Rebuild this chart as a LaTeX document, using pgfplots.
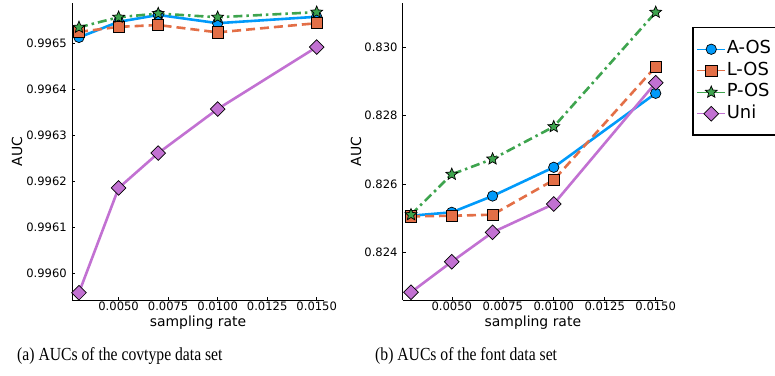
\documentclass[border=0pt]{standalone}
\usepackage{graphicx}
\usepackage{pgfplots}
\pgfplotsset{compat=1.18}
\usepackage{fontspec}
\setmainfont{DejaVu Sans}
\newfontfamily\capfont{Liberation Serif}
\definecolor{cA}{RGB}{0,154,250}
\definecolor{cL}{RGB}{227,111,71}
\definecolor{cP}{RGB}{62,164,78}
\definecolor{cU}{RGB}{194,113,210}
\pgfdeclareplotmark{fstar}{%
  \pgfpathmoveto{\pgfqpointpolar{90}{\pgfplotmarksize}}%
  \pgfpathlineto{\pgfqpointpolar{126}{0.45\pgfplotmarksize}}%
  \pgfpathlineto{\pgfqpointpolar{162}{\pgfplotmarksize}}%
  \pgfpathlineto{\pgfqpointpolar{198}{0.45\pgfplotmarksize}}%
  \pgfpathlineto{\pgfqpointpolar{234}{\pgfplotmarksize}}%
  \pgfpathlineto{\pgfqpointpolar{270}{0.45\pgfplotmarksize}}%
  \pgfpathlineto{\pgfqpointpolar{306}{\pgfplotmarksize}}%
  \pgfpathlineto{\pgfqpointpolar{342}{0.45\pgfplotmarksize}}%
  \pgfpathlineto{\pgfqpointpolar{18}{\pgfplotmarksize}}%
  \pgfpathlineto{\pgfqpointpolar{54}{0.45\pgfplotmarksize}}%
  \pgfpathclose
  \pgfusepathqfillstroke
}
\pgfplotsset{
  myaxis/.style={
    scale only axis, anchor=south west,
    axis lines=left, axis line style={-, line width=0.7bp, black},
    tick align=inside, major tick length=3bp, tick style={black, line width=0.5bp},
    scaled ticks=false, clip=false,
    /pgf/number format/assume math mode=true,
    tick label style={font=\fontsize{11.6}{13}\selectfont},
    label style={font=\fontsize{14}{16}\selectfont},
    xtick={0.005,0.0075,0.01,0.0125,0.015},
    xticklabel style={/pgf/number format/fixed, /pgf/number format/fixed zerofill, /pgf/number format/precision=4, inner sep=0pt, anchor=north, yshift=-2bp},
    yticklabel style={inner sep=0pt, anchor=east, xshift=-5bp},
    xlabel={sampling rate}, ylabel={AUC},
    xlabel style={at={(axis description cs:0.5,0)}, anchor=center, yshift=-23bp},
    legend image code/.code={\draw[#1,line width=1bp,solid] (0bp,0bp) -- (28bp,0bp); \draw[#1,solid,line width=0.7bp] plot coordinates {(14bp,0bp)};},
  },
  sA/.style={cA, line width=2.6bp, solid, mark=*, mark size=5.2bp, mark options={solid, fill=cA, draw=black, line width=0.7bp}},
  sL/.style={cL, line width=2.6bp, dash pattern=on 9bp off 5bp, mark=square*, mark size=5.6bp, mark options={solid, fill=cL, draw=black, line width=0.7bp}},
  sP/.style={cP, line width=2.6bp, dash pattern=on 9bp off 4bp on 2.5bp off 4bp, mark=fstar, mark size=6.2bp, mark options={solid, fill=cP, draw=black, line width=0.7bp}},
  sU/.style={cU, line width=2.6bp, solid, mark=square*, mark size=5.2bp, mark options={solid, rotate=45, fill=cU, draw=black, line width=0.7bp}},
}
\begin{document}
\begin{tikzpicture}
\useasboundingbox (0,0) rectangle (775bp,376bp);
\begin{axis}[myaxis, at={(72bp,76bp)}, width=252bp, height=297bp,
  xmin=0.002647, xmax=0.015369, ymin=0.995941, ymax=0.996588,
  ytick={0.996,0.9961,0.9962,0.9963,0.9964,0.9965},
  yticklabel style={/pgf/number format/fixed, /pgf/number format/fixed zerofill, /pgf/number format/precision=4},
  ylabel style={at={(axis description cs:-0.2183,0.5)}, anchor=center},
]
\addplot[sA] coordinates {(0.003,0.996513)(0.005,0.996547)(0.007,0.996562)(0.01,0.996544)(0.015,0.996558)};
\addplot[sL] coordinates {(0.003,0.996525)(0.005,0.996536)(0.007,0.99654)(0.01,0.996524)(0.015,0.996544)};
\addplot[sP] coordinates {(0.003,0.996535)(0.005,0.996557)(0.007,0.996565)(0.01,0.996557)(0.015,0.996568)};
\addplot[sU] coordinates {(0.003,0.995957)(0.005,0.996185)(0.007,0.996261)(0.01,0.996357)(0.015,0.996492)};
\end{axis}
\begin{axis}[myaxis, at={(402.7bp,76bp)}, width=260.3bp, height=297bp,
  xmin=0.002593, xmax=0.015358, ymin=0.822604, ymax=0.831297,
  ytick={0.824,0.826,0.828,0.830},
  yticklabel style={/pgf/number format/fixed, /pgf/number format/fixed zerofill, /pgf/number format/precision=3},
  ylabel style={at={(axis description cs:-0.1794,0.5)}, anchor=center},
  legend style={at={(1.1114,0.9192)}, anchor=north west, draw=black, line width=1.5bp, fill=white,
    font=\fontsize{18}{20}\selectfont, inner xsep=4bp, inner ysep=12bp,
    nodes={inner sep=1bp, text height=13bp, text depth=4bp}, row sep=2.5bp},
  legend cell align=left,
]
\addplot[sA] coordinates {(0.003,0.82507)(0.005,0.82517)(0.007,0.825648)(0.01,0.826488)(0.015,0.828654)};
\addplot[sL] coordinates {(0.003,0.82505)(0.005,0.82507)(0.007,0.8251)(0.01,0.826116)(0.015,0.829433)};
\addplot[sP] coordinates {(0.003,0.8251)(0.005,0.826283)(0.007,0.826731)(0.01,0.827676)(0.015,0.831025)};
\addplot[sU] coordinates {(0.003,0.82283)(0.005,0.823725)(0.007,0.824585)(0.01,0.825414)(0.015,0.828964)};
\legend{A-OS\hspace{10bp},L-OS,P-OS,Uni}
\end{axis}
\node[anchor=base west, font=\capfont\fontsize{18.5}{20}\selectfont, inner sep=0pt] at (17bp,16bp) {\scalebox{0.85}[1]{(a) AUCs of the covtype data set}};
\node[anchor=base west, font=\capfont\fontsize{18.5}{20}\selectfont, inner sep=0pt] at (375bp,16bp) {\scalebox{0.85}[1]{(b) AUCs of the font data set}};
\end{tikzpicture}
\end{document}
